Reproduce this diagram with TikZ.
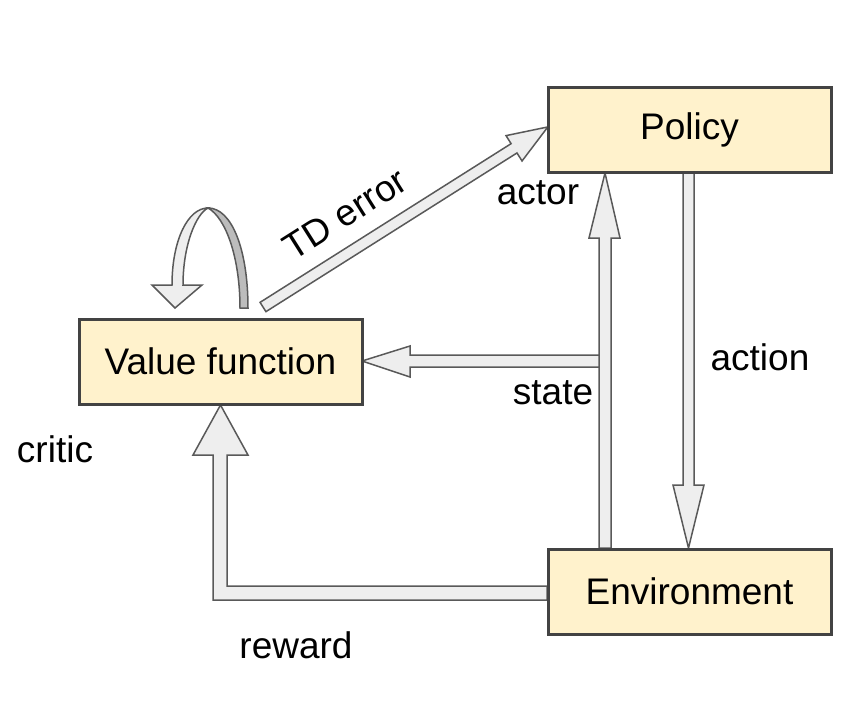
\documentclass[tikz,border=0pt]{standalone}
\usepackage{fontspec}
\setmainfont{Liberation Sans}
\definecolor{boxfill}{HTML}{FFF2CC}
\definecolor{boxline}{HTML}{434343}
\definecolor{arrfill}{HTML}{EEEEEE}
\definecolor{arrline}{HTML}{595959}
\definecolor{ribbon}{HTML}{BCBCBC}
\begin{document}
\begin{tikzpicture}[x=1pt,y=-1pt,
  box/.style={draw=boxline,fill=boxfill,line width=3pt,minimum width=283pt,minimum height=85pt,inner sep=0pt,font=\fontsize{37}{44}\selectfont},
  lbl/.style={font=\fontsize{37}{44}\selectfont,inner sep=0pt},
  blockarrow/.style={draw=arrline,fill=arrfill,line width=1.5pt,line join=miter}]
\useasboundingbox (0,0) rectangle (868,702);
% action arrow
\draw[blockarrow] (683,173) -- (694,173) -- (694,485) -- (704,485) -- (688.5,548) -- (673,485) -- (683,485) -- cycle;
% state / actor up arrow
\draw[blockarrow] (599,548) -- (611,548) -- (611,238) -- (620,238) -- (605,173) -- (589,238) -- (599,238) -- cycle;
% state arrow to value function
\draw[blockarrow] (599,355) -- (599,367) -- (410,367) -- (410,377) -- (362,361) -- (410,346) -- (410,355) -- cycle;
% reward arrow
\draw[blockarrow] (547,600) -- (213,600) -- (213,455) -- (193,455) -- (220.5,405) -- (248,455) -- (227,455) -- (227,586) -- (547,586) -- cycle;
% TD error arrow
\begin{scope}[shift={(263,307)},rotate=32.3]
\draw[blockarrow] (0,-5.5) -- (297,-5.5) -- (297,-15) -- (337,0) -- (297,15) -- (297,5.5) -- (0,5.5) -- cycle;
\end{scope}
% self loop on value function
\draw[blockarrow,fill=ribbon] (208,208) .. controls (232,208) and (248,250) .. (248,308) -- (240,308) .. controls (240,258) and (226,218) .. (208,208) -- cycle;
\draw[blockarrow] (175,308) -- (152,285) -- (172,285) .. controls (172,240) and (188,208) .. (208,208) .. controls (196,214) and (183,245) .. (183,285) -- (202,285) -- cycle;
% boxes
\node[box] (pol) at (689.5,129.5) {Policy};
\node[box] (val) at (220.5,361.5) {Value function};
\node[box] (env) at (689.5,591.5) {Environment};
% labels
\node[lbl,rotate=32.3] (td) at (345,214) {TD error};
\node[lbl] (actor) at (538,193) {actor};
\node[lbl] (action) at (760,357) {action};
\node[lbl] (state) at (553,393) {state};
\node[lbl] (critic) at (55,449) {critic};
\node[lbl] (reward) at (296,645) {reward};
\end{tikzpicture}
\end{document}
